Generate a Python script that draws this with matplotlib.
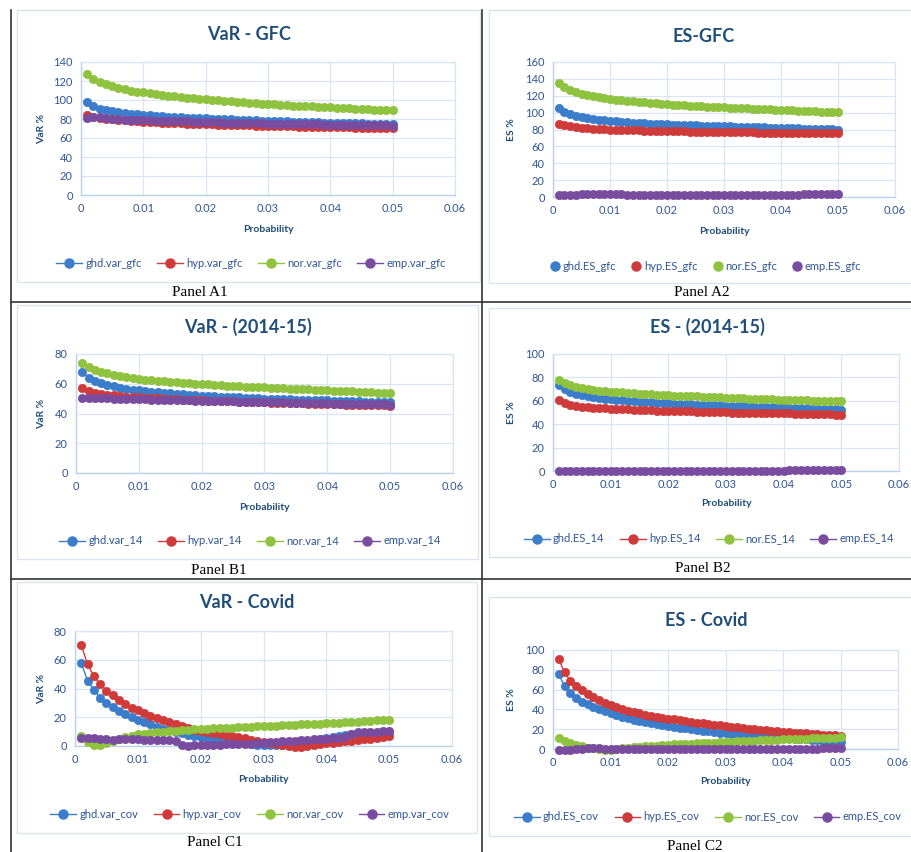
import matplotlib
matplotlib.use("Agg")
import matplotlib.pyplot as plt
from matplotlib.patches import Rectangle
from matplotlib.lines import Line2D

plt.rcParams['font.family'] = ['Lato', 'DejaVu Sans']

# ---------------- data ----------------
PROB = [0.001, 0.002, 0.003, 0.004, 0.005, 0.006, 0.007, 0.008, 0.009, 0.010,
        0.011, 0.012, 0.013, 0.014, 0.015, 0.016, 0.017, 0.018, 0.019, 0.020,
        0.021, 0.022, 0.023, 0.024, 0.025, 0.026, 0.027, 0.028, 0.029, 0.030,
        0.031, 0.032, 0.033, 0.034, 0.035, 0.036, 0.037, 0.038, 0.039, 0.040,
        0.041, 0.042, 0.043, 0.044, 0.045, 0.046, 0.047, 0.048, 0.049, 0.050]

# Panel A1 : VaR - GFC
A1_ghd = [98.0,93.5,91.0,89.3,88.0,87.0,86.2,85.5,84.8,84.2,83.7,83.3,82.9,82.5,82.1,81.8,81.5,81.2,80.9,80.6,
          80.3,80.0,79.8,79.5,79.3,79.0,78.8,78.6,78.4,78.1,77.9,77.7,77.5,77.3,77.1,76.9,76.7,76.5,76.3,76.1,
          75.9,75.8,75.6,75.4,75.3,75.1,74.9,74.8,74.6,74.5]
A1_hyp = [84.0,82.5,81.4,80.5,79.8,79.2,78.6,78.1,77.6,77.2,76.8,76.5,76.2,75.9,75.6,75.3,75.1,74.9,74.7,74.5,
          74.3,74.1,73.9,73.7,73.5,73.4,73.2,73.1,72.9,72.8,72.6,72.5,72.4,72.2,72.1,72.0,71.8,71.7,71.6,71.4,
          71.3,71.2,71.1,71.0,70.9,70.7,70.6,70.5,70.4,70.3]
A1_nor = [127.0,122.0,119.0,116.5,114.5,112.8,111.3,110.0,108.9,107.9,107.0,106.1,105.3,104.5,103.8,103.1,102.4,101.8,101.2,100.6,
          100.0,99.5,99.0,98.5,98.0,97.5,97.0,96.6,96.2,95.8,95.4,95.0,94.6,94.2,93.9,93.5,93.2,92.8,92.5,92.2,
          91.8,91.5,91.2,90.9,90.6,90.3,90.0,89.7,89.4,89.1]
A1_emp = [81.5,82.0,82.0,80.6,80.0,79.7,79.4,79.2,79.0,78.8,78.6,78.4,78.2,78.0,77.8,77.6,77.4,77.2,77.0,76.8,
          76.6,76.5,76.3,76.2,76.0,75.9,75.7,75.5,75.3,75.1,75.0,74.9,74.8,74.7,74.6,74.5,74.4,74.3,74.2,74.1,
          74.0,73.9,73.8,73.7,73.6,73.5,73.4,73.3,73.2,73.1]

# Panel A2 : ES - GFC
A2_ghd = [105.0,100.5,98.0,96.0,94.5,93.3,92.3,91.5,90.8,90.2,89.6,89.1,88.6,88.2,87.8,87.4,87.0,86.7,86.3,86.0,
          85.7,85.5,85.3,85.1,84.9,84.7,84.5,84.3,84.1,83.9,83.7,83.5,83.3,83.1,82.9,82.7,82.5,82.3,82.1,81.9,
          81.7,81.5,81.3,81.1,80.9,80.7,80.5,80.3,80.1,79.9]
A2_hyp = [86.5,85.0,83.6,82.7,82.0,81.5,81.0,80.6,80.3,80.0,79.7,79.5,79.3,79.1,78.9,78.7,78.5,78.4,78.2,78.0,
          77.9,77.8,77.7,77.6,77.5,77.4,77.3,77.2,77.1,77.0,76.9,76.8,76.7,76.6,76.5,76.4,76.3,76.2,76.1,76.0,
          75.9,75.9,75.8,75.8,75.7,75.7,75.6,75.6,75.5,75.5]
A2_nor = [135.0,130.0,127.0,124.5,122.5,120.9,119.5,118.3,117.2,116.2,115.3,114.6,113.9,113.3,112.7,112.1,111.6,111.1,110.6,110.1,
          109.6,109.2,108.8,108.4,108.0,107.6,107.2,106.9,106.5,106.2,105.9,105.6,105.3,105.0,104.7,104.4,104.1,103.8,103.5,103.2,
          102.9,102.6,102.3,102.0,101.7,101.4,101.1,100.8,100.5,100.2]
A2_emp = [2.0,2.0,2.1,2.6,3.0,3.3,3.6,3.7,3.6,3.4,3.2,3.0,2.8,2.7,2.6,2.5,2.5,2.4,2.4,2.4,
          2.4,2.4,2.4,2.4,2.4,2.4,2.4,2.4,2.4,2.4,2.4,2.4,2.4,2.4,2.5,2.5,2.5,2.6,2.6,2.7,
          2.7,2.8,2.9,3.0,3.1,3.2,3.3,3.4,3.5,3.6]

# Panel B1 : VaR - (2014-15)
B1_ghd = [68.0,64.2,62.1,60.5,59.2,58.2,57.3,56.6,56.0,55.5,55.0,54.6,54.2,53.8,53.5,53.2,52.9,52.6,52.3,52.0,
          51.8,51.6,51.4,51.2,51.0,50.8,50.6,50.4,50.2,50.0,49.9,49.8,49.7,49.5,49.4,49.3,49.2,49.1,49.0,48.8,
          48.7,48.5,48.4,48.3,48.1,48.0,47.9,47.7,47.6,47.4]
B1_hyp = [57.2,55.3,54.1,53.3,52.7,52.2,51.8,51.4,51.1,50.8,50.5,50.3,50.1,49.9,49.7,49.5,49.3,49.1,48.9,48.8,
          48.6,48.5,48.4,48.2,48.1,48.0,47.8,47.7,47.6,47.4,47.3,47.2,47.1,47.0,46.9,46.8,46.7,46.6,46.5,46.3,
          46.2,46.1,46.0,45.9,45.8,45.7,45.6,45.5,45.4,45.3]
B1_nor = [74.0,71.2,69.5,68.1,67.0,66.0,65.2,64.5,63.8,63.2,62.7,62.3,61.9,61.6,61.3,61.0,60.7,60.4,60.1,59.8,
          59.5,59.3,59.0,58.8,58.5,58.3,58.1,57.9,57.7,57.5,57.3,57.1,56.9,56.7,56.5,56.3,56.2,56.0,55.8,55.6,
          55.4,55.2,55.0,54.8,54.6,54.4,54.2,54.0,53.8,53.6]
B1_emp = [50.3,50.4,50.3,50.2,50.1,50.0,49.9,49.8,49.7,49.6,49.5,49.4,49.3,49.2,49.1,49.0,48.9,48.8,48.7,48.6,
          48.5,48.4,48.3,48.2,48.1,48.0,47.9,47.8,47.7,47.6,47.5,47.5,47.4,47.3,47.2,47.1,47.0,47.0,46.9,46.8,
          46.7,46.6,46.6,46.5,46.4,46.3,46.2,46.2,46.1,46.0]

# Panel B2 : ES - (2014-15)
B2_ghd = [73.5,69.8,67.8,66.1,64.8,63.8,63.0,62.3,61.7,61.2,60.7,60.3,59.9,59.5,59.2,58.9,58.6,58.3,58.0,57.8,
          57.6,57.4,57.2,57.0,56.8,56.6,56.4,56.2,56.0,55.8,55.6,55.5,55.3,55.2,55.0,54.9,54.8,54.7,54.5,54.4,
          54.2,54.0,53.8,53.6,53.4,53.2,53.0,52.8,52.6,52.4]
B2_hyp = [60.4,58.0,56.5,55.6,54.9,54.4,54.0,53.7,53.5,53.3,53.1,52.9,52.7,52.5,52.3,52.1,51.9,51.7,51.5,51.3,
          51.2,51.1,51.0,50.9,50.8,50.7,50.6,50.5,50.3,50.1,50.0,49.9,49.9,49.8,49.7,49.6,49.6,49.5,49.4,49.3,
          49.2,49.1,49.0,48.9,48.8,48.7,48.5,48.4,48.2,48.1]
B2_nor = [77.8,75.2,73.5,72.0,70.9,70.1,69.4,68.8,68.3,67.9,67.5,67.1,66.8,66.5,66.2,65.9,65.6,65.3,65.0,64.7,
          64.5,64.3,64.1,63.9,63.7,63.5,63.3,63.1,62.9,62.7,62.5,62.3,62.1,61.9,61.7,61.5,61.3,61.2,61.0,60.9,
          60.7,60.6,60.5,60.3,60.2,60.1,59.9,59.8,59.7,59.6]
B2_emp = [0.0,0.1,0.1,0.2,0.2,0.3,0.3,0.4,0.4,0.4,0.4,0.4,0.4,0.4,0.4,0.4,0.4,0.4,0.4,0.4,
          0.4,0.4,0.4,0.4,0.4,0.4,0.4,0.4,0.4,0.4,0.4,0.4,0.4,0.4,0.4,0.4,0.4,0.4,0.4,0.4,
          0.5,0.5,0.5,0.5,0.5,0.5,0.6,0.6,0.6,0.6]

# Panel C1 : VaR - Covid
C1_ghd = [57.5,45.5,38.7,33.6,29.7,26.9,24.6,22.0,20.2,18.0,16.5,15.0,13.5,12.0,11.0,10.0,8.8,7.7,6.7,6.0,
          5.4,4.9,4.3,3.7,3.0,2.3,1.8,1.4,1.0,0.7,0.6,0.6,0.8,1.2,2.0,2.8,3.5,4.2,4.9,5.5,
          6.2,7.0,7.8,8.3,8.6,8.9,9.1,9.3,9.5,9.7]
C1_hyp = [70.3,56.8,48.7,42.9,38.5,35.3,31.8,29.2,26.7,24.8,23.0,21.2,19.6,18.1,16.7,15.3,13.8,12.4,11.3,10.4,
          9.6,9.0,8.4,7.8,7.1,6.3,5.4,4.5,3.6,2.8,2.0,1.3,0.6,0.0,-0.6,-0.5,0.1,0.7,1.3,1.9,
          2.4,2.8,3.2,3.7,4.2,4.7,5.2,5.8,6.4,7.0]
C1_nor = [7.0,2.8,0.7,1.0,2.3,3.7,5.1,6.0,7.2,8.1,8.6,9.1,9.6,10.0,10.4,10.7,11.0,11.3,11.5,11.8,
          12.0,12.2,12.4,12.6,12.8,13.0,13.2,13.4,13.6,13.8,14.0,14.2,14.4,14.6,14.8,15.0,15.2,15.4,15.6,15.8,
          16.0,16.3,16.5,16.8,17.0,17.3,17.5,17.8,18.0,18.2]
C1_emp = [5.3,5.6,5.3,5.1,4.6,4.2,4.6,4.9,4.9,4.6,4.4,4.3,4.1,4.0,3.9,3.6,0.6,0.2,0.4,0.6,
          0.8,0.9,1.0,1.1,1.2,1.3,1.4,1.6,1.9,2.3,2.6,2.9,3.2,3.5,3.8,4.1,4.4,4.6,4.9,5.2,
          5.5,5.8,6.2,8.6,9.4,9.6,9.8,10.0,10.2,10.4]

# Panel C2 : ES - Covid
C2_ghd = [75.4,63.6,56.2,51.9,47.8,45.1,42.4,40.1,38.0,36.0,34.3,32.7,31.1,29.6,28.4,27.3,26.1,24.9,24.0,23.2,
          22.4,21.6,20.8,20.0,19.2,18.5,17.8,17.1,16.4,15.8,15.3,14.8,14.3,13.9,13.5,13.0,12.6,12.2,11.8,11.4,
          11.0,10.6,10.2,9.8,9.4,9.0,8.5,8.0,7.5,7.0]
C2_hyp = [90.9,77.4,69.0,63.6,59.6,55.6,52.2,49.5,46.8,44.4,42.3,40.4,38.8,37.4,36.0,34.7,33.5,32.3,31.4,30.6,
          29.8,29.0,28.2,27.4,26.6,25.9,25.2,24.5,23.8,23.2,22.5,21.8,21.1,20.5,19.9,19.4,18.9,18.4,17.9,17.5,
          17.0,16.6,16.1,15.7,15.2,14.9,14.5,14.2,13.8,13.5]
C2_nor = [11.4,8.1,6.0,4.0,2.7,1.3,0.7,-0.3,-1.0,-0.7,0.0,0.7,1.2,1.7,2.2,2.7,3.0,3.4,3.9,4.4,
          4.7,4.9,5.2,5.5,5.7,6.0,6.3,6.5,6.8,7.0,7.3,7.6,7.9,8.1,8.4,8.7,9.0,9.2,9.5,9.8,
          10.0,10.2,10.4,10.6,10.8,11.0,11.2,11.4,11.6,11.8]
C2_emp = [-1.0,-1.0,-0.8,-0.3,0.2,0.6,0.8,0.8,0.5,0.1,-0.3,-0.5,-0.5,-0.4,-0.3,-0.2,-0.2,-0.2,-0.2,-0.2,
          -0.2,-0.2,-0.2,-0.2,-0.2,-0.2,-0.2,-0.2,-0.2,-0.2,-0.2,-0.2,-0.2,-0.2,-0.2,-0.1,-0.1,-0.1,0.0,0.0,
          0.1,0.1,0.2,0.3,0.4,0.5,0.6,0.7,0.7,0.8]

X_TICKS = [0, 0.01, 0.02, 0.03, 0.04, 0.05, 0.06]
X_TICKLABELS = ["0", "0.01", "0.02", "0.03", "0.04", "0.05", "0.06"]

# ---------------- style ----------------
W, H = 912, 852
COLORS = ['#3C7DCB', '#CF3A3A', '#8FC23F', '#7A4CA0']
TITLE_C = '#1F4E79'
TEXT_C = '#2F5597'
GRID_C = '#D9E5F4'
AXIS_C = '#BCD2EC'
FRAME_C = '#DCE3EC'

fig = plt.figure(figsize=(W / 100, H / 100), dpi=100)


def fx(px):
    return px / W


def fy(py):
    return 1 - py / H


def panel(box, series, names, ymax, title, ylabel, title_xy, ylab_x, xlab_y,
          leg_xy, leg_lines, plabel, plabel_xy, frame):
    # chart-area frame
    fl, ft, fr, fb = frame
    fig.patches.append(Rectangle((fx(fl), fy(fb)), fx(fr - fl), (fb - ft) / H,
                                 transform=fig.transFigure, fill=False,
                                 edgecolor=FRAME_C, linewidth=1.0))
    l, t, r, b = box
    ax = fig.add_axes([fx(l), fy(b), fx(r - l), (b - t) / H])
    handles = []
    for vals, c, nm in zip(series, COLORS, names):
        ax.plot(PROB, vals, color=c, linewidth=1.0, marker='o', markersize=6.0,
                markeredgecolor=c, markeredgewidth=0.5, clip_on=False, zorder=3)
        if leg_lines:
            handles.append(Line2D([0], [0], color=c, linewidth=1.0, marker='o',
                                  markersize=6.5, label=nm))
        else:
            handles.append(Line2D([0], [0], color=c, linestyle='none', marker='o',
                                  markersize=6.5, label=nm))
    ax.set_xlim(0, 0.06)
    ax.set_ylim(0, ymax)
    ax.set_xticks(X_TICKS)
    ax.set_xticklabels(X_TICKLABELS)
    ax.set_yticks(list(range(0, ymax + 1, 20)))
    ax.grid(True, color=GRID_C, linewidth=0.9)
    ax.set_axisbelow(True)
    for s in ['top', 'right']:
        ax.spines[s].set_color(GRID_C)
        ax.spines[s].set_linewidth(0.9)
    for s in ['left', 'bottom']:
        ax.spines[s].set_color(AXIS_C)
        ax.spines[s].set_linewidth(1.0)
    ax.tick_params(length=0, labelsize=8, labelcolor=TEXT_C, pad=6)
    fig.text(fx(title_xy[0]), fy(title_xy[1]), title, ha='center', va='center',
             fontsize=13, fontweight='bold', color=TITLE_C)
    fig.text(fx(ylab_x), fy((t + b) / 2), ylabel, ha='center', va='center',
             rotation=90, fontsize=7.5, fontweight='bold', color=TITLE_C)
    fig.text(fx((l + r) / 2), fy(xlab_y), 'Probability', ha='center', va='center',
             fontsize=7.5, fontweight='bold', color=TITLE_C)
    fig.legend(handles=handles, loc='center', ncol=4, frameon=False,
               bbox_to_anchor=(fx(leg_xy[0]), fy(leg_xy[1])),
               fontsize=8, labelcolor=TEXT_C, handlelength=2.3 if leg_lines else 0.8,
               handletextpad=0.3, columnspacing=1.4)
    fig.text(fx(plabel_xy[0]), fy(plabel_xy[1]), plabel, ha='center', va='center',
             fontsize=11, family=['Liberation Serif'], color='black')
    return ax


panel((81, 62, 455, 195), [A1_ghd, A1_hyp, A1_nor, A1_emp],
      ['ghd.var_gfc', 'hyp.var_gfc', 'nor.var_gfc', 'emp.var_gfc'], 140,
      'VaR - GFC', 'VaR %', (249, 34), 42, 229, (251, 263), True,
      'Panel A1', (200, 292), (17, 10, 480, 282))

panel((553, 62, 895, 197), [A2_ghd, A2_hyp, A2_nor, A2_emp],
      ['ghd.ES_gfc', 'hyp.ES_gfc', 'nor.ES_gfc', 'emp.ES_gfc'], 160,
      'ES-GFC', 'ES %', (704, 36), 512, 231, (706, 266), False,
      'Panel A2', (702, 293), (489, 10, 915, 283))

panel((76, 354, 453, 473), [B1_ghd, B1_hyp, B1_nor, B1_emp],
      ['ghd.var_14', 'hyp.var_14', 'nor.var_14', 'emp.var_14'], 80,
      'VaR - (2014-15)', 'VaR %', (248, 327), 42, 507, (250, 541), True,
      'Panel B1', (219, 570), (17, 305, 478, 559))

panel((553, 354, 899, 471), [B2_ghd, B2_hyp, B2_nor, B2_emp],
      ['ghd.ES_14', 'hyp.ES_14', 'nor.ES_14', 'emp.ES_14'], 100,
      'ES - (2014-15)', 'ES %', (707, 327), 512, 504, (709, 539), True,
      'Panel B2', (703, 568), (489, 308, 915, 557))

panel((75, 631, 452, 746), [C1_ghd, C1_hyp, C1_nor, C1_emp],
      ['ghd.var_cov', 'hyp.var_cov', 'nor.var_cov', 'emp.var_cov'], 80,
      'VaR - Covid', 'VaR %', (247, 602), 42, 779, (250, 814), True,
      'Panel C1', (215, 842), (17, 582, 477, 833))

panel((553, 650, 898, 749), [C2_ghd, C2_hyp, C2_nor, C2_emp],
      ['ghd.ES_cov', 'hyp.ES_cov', 'nor.ES_cov', 'emp.ES_cov'], 100,
      'ES - Covid', 'ES %', (706, 620), 512, 782, (708, 817), True,
      'Panel C2', (695, 846), (489, 597, 915, 836))

# table grid lines
grid_lines = [
    ((11, 11), (10, 852)),
    ((482, 482), (10, 852)),
    ((11, 912), (302, 302)),
    ((11, 912), (579, 579)),
]
for xs, ys in grid_lines:
    fig.add_artist(Line2D([fx(xs[0]), fx(xs[1])], [fy(ys[0]), fy(ys[1])],
                          transform=fig.transFigure, color='#333333', linewidth=1.2))

fig.savefig('out.png', dpi=100, facecolor='white')
